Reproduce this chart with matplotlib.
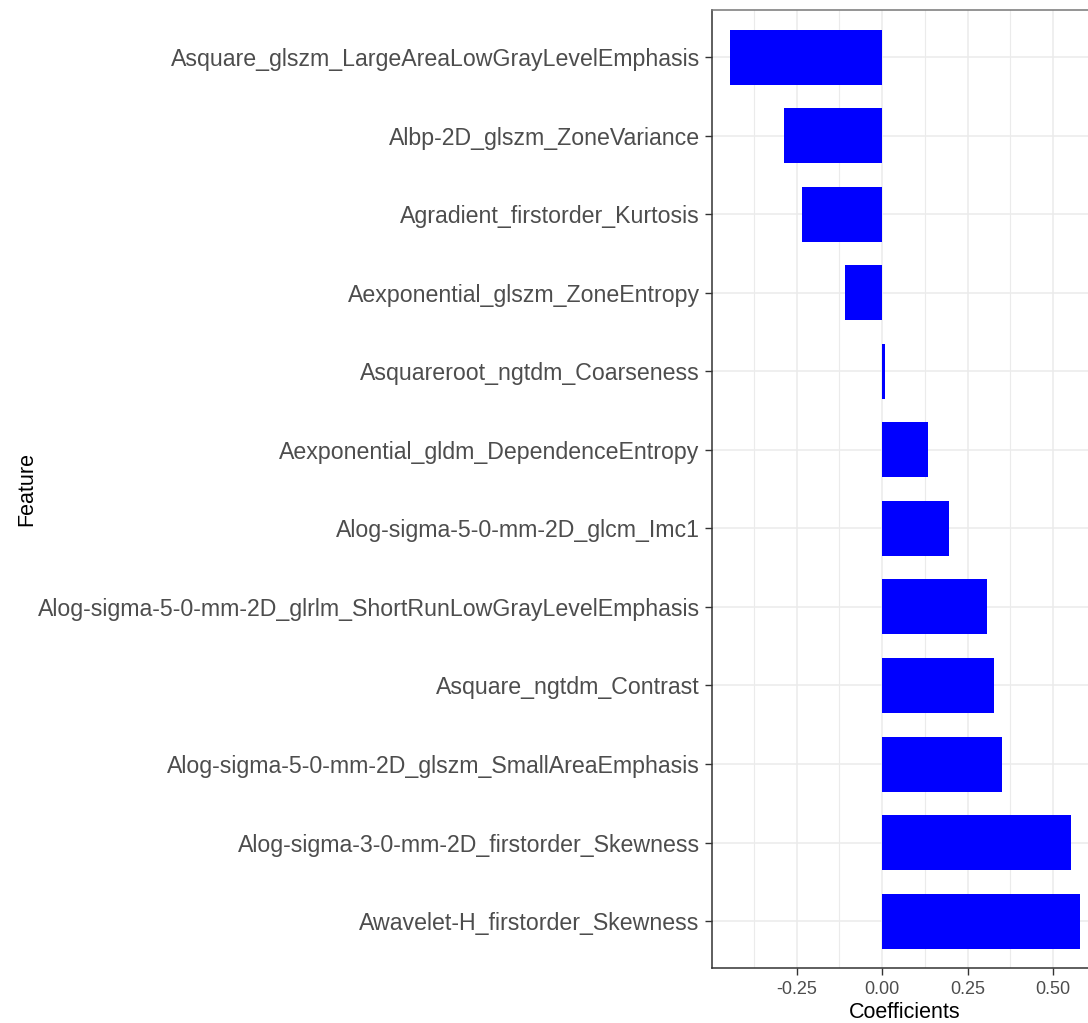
import matplotlib.pyplot as plt
import matplotlib
from matplotlib.ticker import MultipleLocator

matplotlib.rcParams['font.family'] = ['Liberation Sans', 'DejaVu Sans']

# features from top to bottom, with their model coefficients
features = [
    "Asquare_glszm_LargeAreaLowGrayLevelEmphasis",
    "Albp-2D_glszm_ZoneVariance",
    "Agradient_firstorder_Kurtosis",
    "Aexponential_glszm_ZoneEntropy",
    "Asquareroot_ngtdm_Coarseness",
    "Aexponential_gldm_DependenceEntropy",
    "Alog-sigma-5-0-mm-2D_glcm_Imc1",
    "Alog-sigma-5-0-mm-2D_glrlm_ShortRunLowGrayLevelEmphasis",
    "Asquare_ngtdm_Contrast",
    "Alog-sigma-5-0-mm-2D_glszm_SmallAreaEmphasis",
    "Alog-sigma-3-0-mm-2D_firstorder_Skewness",
    "Awavelet-H_firstorder_Skewness",
]
coefs = [-0.446, -0.286, -0.234, -0.108, 0.007, 0.133,
         0.195, 0.307, 0.328, 0.350, 0.553, 0.578]

xticks = [-0.25, 0.0, 0.25, 0.5]
xtick_labels = ["-0.25", "0.00", "0.25", "0.50"]

fig = plt.figure(figsize=(10.88, 10.23), dpi=100)
# panel runs off the right edge of the canvas
panel = [0.6547, 0.0535, 0.3536, 0.9368]
ax = fig.add_axes(panel)

ypos = list(range(len(features)))
ax.barh(ypos, coefs, height=0.7, color='#0000FF', zorder=3)

# ggplot-like expansion of the scales
lo, hi = min(coefs), max(coefs)
pad = (hi - lo) * 0.05
ax.set_xlim(lo - pad, hi + pad)
ax.set_ylim(len(features) - 1 + 0.6, -0.6)

ax.set_yticks(ypos)
ax.set_yticklabels(features)
ax.set_xticks(xticks)
ax.set_xticklabels(xtick_labels)
ax.xaxis.set_minor_locator(MultipleLocator(0.125))

ax.grid(True, which='major', color='#EBEBEB', linewidth=1.1, zorder=0)
ax.grid(True, which='minor', axis='x', color='#EBEBEB', linewidth=0.8, zorder=0)
ax.set_axisbelow(True)

ax.tick_params(axis='y', labelsize=16.7, labelcolor='#4D4D4D', color='#333333',
               length=5, width=1.0, pad=4)
ax.tick_params(axis='x', labelsize=13, labelcolor='#4D4D4D', color='#333333',
               length=5, width=1.0, pad=4)
ax.tick_params(which='minor', length=0)

for side in ['left', 'bottom', 'top', 'right']:
    ax.spines[side].set_color('#333333')
    ax.spines[side].set_linewidth(1.1)
ax.spines['top'].set_color('#777777')

ax.set_xlabel("Coefficients", fontsize=15.5, labelpad=3)
fig.text(0.025, panel[1] + panel[3] / 2, "Feature", rotation=90, fontsize=15.5,
         ha='center', va='center')

plt.savefig("out.png", dpi=100)
